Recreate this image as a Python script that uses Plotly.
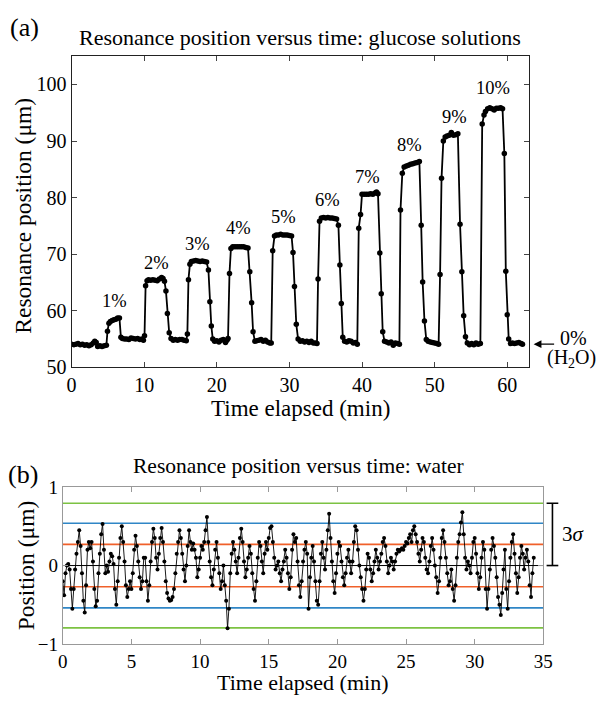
import plotly.graph_objects as go

# ---------------- Panel (a): glucose solutions ----------------
glu_t = [0.0, 0.3, 0.6, 0.9, 1.2, 1.5, 1.8, 2.1, 2.4, 2.7, 3.0, 3.2, 3.4, 3.6, 3.9, 4.2, 4.5, 4.8,
         4.95, 5.15, 5.35, 5.6, 5.85, 6.1, 6.35, 6.6, 6.8,
         7.0, 7.3, 7.6, 7.9, 8.2, 8.5, 8.8, 9.1, 9.4, 9.7, 9.9,
         10.05, 10.2, 10.4, 10.6, 10.9, 11.2, 11.5, 11.8, 12.1, 12.4, 12.6, 12.8,
         13.0, 13.2, 13.45, 13.7,
         14.0, 14.3, 14.6, 14.9, 15.2, 15.5, 15.8,
         15.95, 16.1, 16.3, 16.5, 16.8, 17.1, 17.4, 17.7, 18.0, 18.3, 18.6,
         18.85, 19.05, 19.25, 19.45,
         19.7, 20.0, 20.3, 20.6, 20.9, 21.2, 21.4,
         21.55, 21.75, 21.95, 22.2, 22.5, 22.8, 23.1, 23.4, 23.7, 24.0, 24.3,
         24.55, 24.8, 25.0, 25.25,
         25.5, 25.8, 26.1, 26.4, 26.7, 27.0, 27.3,
         27.5, 27.7, 27.95, 28.2, 28.5, 28.8, 29.1, 29.4, 29.7, 30.0, 30.3,
         30.5, 30.7, 30.95, 31.2,
         31.5, 31.8, 32.1, 32.4, 32.7, 33.0, 33.3, 33.6,
         33.8, 33.95, 34.15, 34.4, 34.7, 35.0, 35.3, 35.6, 35.9, 36.2, 36.5,
         36.75, 36.95, 37.15, 37.35,
         37.6, 37.9, 38.2, 38.5, 38.8, 39.1, 39.35,
         39.55, 39.8, 40.0, 40.3, 40.6, 40.9, 41.2, 41.5, 41.8, 42.0, 42.2,
         42.45, 42.65, 42.85, 43.1,
         43.4, 43.7, 44.0, 44.3, 44.6, 44.9, 45.15,
         45.3, 45.55, 45.8, 46.1, 46.4, 46.7, 47.0, 47.3, 47.6, 47.9,
         48.15, 48.35, 48.6, 48.85,
         49.1, 49.4, 49.7, 50.0, 50.3, 50.55,
         50.75, 50.95, 51.2, 51.45, 51.7, 52.0, 52.3, 52.6, 52.9, 53.2,
         53.5, 53.75, 54.0, 54.25,
         54.5, 54.8, 55.1, 55.4, 55.7, 56.0, 56.3,
         56.55, 56.8, 57.0, 57.3, 57.6, 57.9, 58.2, 58.5, 58.8, 59.1, 59.35,
         59.6, 59.8, 60.0, 60.2,
         60.45, 60.7, 61.0, 61.3, 61.6, 61.9, 62.1]
glu_pos = [54.1, 54.0, 54.1, 54.2, 54.0, 54.1, 53.9, 54.0, 53.8, 54.0, 54.3, 54.6, 54.4, 53.7, 53.8, 53.7, 53.8, 53.9,
           56.4, 57.8, 58.1, 58.3, 58.4, 58.5, 58.7, 58.7, 55.3,
           55.1, 55.0, 55.0, 54.9, 55.2, 55.1, 55.0, 55.1, 54.9, 55.0, 54.8,
           55.6, 64.4, 65.3, 65.5, 65.4, 65.5, 65.4, 65.3, 65.6, 65.9, 65.7, 65.2,
           63.5, 59.5, 56.1, 55.1,
           54.8, 54.9, 54.8, 54.9, 54.9, 54.8, 54.7,
           55.9, 65.5, 68.2, 68.7, 68.8, 68.9, 68.8, 68.7, 68.8, 68.7, 68.6,
           67.2, 61.6, 57.3, 55.0,
           54.6, 54.7, 54.5, 54.8, 54.9, 54.4, 54.8,
           55.1, 66.6, 71.0, 71.3, 71.3, 71.3, 71.3, 71.3, 71.3, 71.2, 71.1,
           66.9, 61.4, 56.3, 54.6,
           54.7, 54.8, 54.9, 54.6, 54.8, 54.5, 54.3,
           54.3, 70.6, 73.2, 73.4, 73.4, 73.5, 73.4, 73.4, 73.4, 73.3, 73.2,
           70.3, 64.3, 57.6, 55.0,
           54.6, 54.7, 54.5, 54.6, 54.4, 54.6, 54.3, 54.3,
           54.2, 65.6, 75.8, 76.4, 76.5, 76.4, 76.5, 76.4, 76.4, 76.3, 76.2,
           75.1, 68.1, 61.3, 55.3,
           54.6, 54.5, 54.7, 54.6, 54.3, 54.4, 54.1,
           74.6, 77.0, 80.6, 80.6, 80.6, 80.6, 80.7, 80.6, 80.8, 81.0, 80.7,
           70.2, 63.0, 56.3, 54.6,
           54.5, 54.3, 54.5, 53.9, 54.3, 54.2, 54.1,
           77.8, 84.3, 85.4, 85.6, 85.7, 85.9, 86.0, 86.1, 86.2, 86.4,
           75.1, 65.1, 58.2, 54.9,
           54.6, 54.5, 54.4, 54.3, 54.2, 54.1,
           66.4, 83.4, 90.0, 90.7, 90.9, 91.0, 91.5, 91.0, 91.1, 91.3,
           75.3, 66.9, 59.1, 55.4,
           54.3, 54.0, 54.2, 54.0, 54.3, 54.1, 54.2,
           93.0, 94.6, 95.2, 95.7, 95.9, 95.7, 95.5, 95.8, 95.8, 95.9, 95.7,
           87.8, 67.0, 59.3, 55.0,
           54.2, 54.3, 54.2, 54.3, 54.4, 54.2, 54.1]

pct_labels = ["1%", "2%", "3%", "4%", "5%", "6%", "7%", "8%", "9%", "10%"]
pct_label_t = [5.9, 11.7, 17.3, 23.0, 29.2, 35.2, 40.8, 46.6, 52.8, 58.1]
pct_label_pos = [61.7, 68.4, 71.8, 74.6, 76.6, 79.6, 83.6, 89.3, 94.3, 99.3]

# ---------------- Panel (b): water ----------------
water_dt = 0.1  # min between samples
water_pos = [
    -0.20, -0.38, -0.10, 0.00, 0.02, -0.05, -0.30, -0.55, -0.30, -0.05,
    0.15, 0.30, 0.45, 0.25, -0.10, -0.45, -0.60, -0.25, 0.20, 0.30,
    0.22, 0.30, 0.05, -0.30, -0.52, -0.45, -0.10, 0.15, 0.40, 0.53,
    0.20, -0.10, 0.00, -0.08, 0.05, 0.15, 0.12, 0.02, -0.30, -0.50,
    -0.20, 0.10, 0.35, 0.50, 0.30, 0.05, -0.25, -0.40, -0.30, -0.20,
    -0.30, -0.10, 0.20, 0.38, 0.25, 0.05, -0.15, -0.30, -0.20, 0.10,
    0.10, -0.20, -0.45, -0.25, 0.05, 0.30, 0.47, 0.35, 0.10, -0.05,
    0.15, 0.35, 0.48, 0.30, 0.05, -0.20, -0.35, -0.42, -0.45, -0.44,
    -0.40, -0.30, -0.10, 0.15, 0.30, 0.45, 0.35, 0.15, -0.05, -0.20,
    0.00, 0.25, 0.45, 0.30, 0.20, 0.28, 0.20, 0.10, -0.15, -0.05,
    0.10, 0.25, 0.20, 0.30, 0.45, 0.62, 0.30, 0.05, -0.15, -0.25,
    -0.05, 0.20, 0.30, 0.10, -0.10, -0.30, -0.20, 0.00, -0.25, -0.45,
    -0.80, -0.55, -0.10, 0.15, 0.30, 0.20, 0.05, -0.10, 0.10, 0.35,
    0.47, 0.30, 0.05, -0.15, -0.05, 0.10, 0.25, 0.15, -0.10, -0.30,
    -0.45, -0.20, 0.10, 0.30, 0.25, 0.05, -0.10, 0.15, 0.30, 0.20,
    0.35, 0.48, 0.50, 0.30, 0.10, -0.05, 0.00, 0.05, -0.10, -0.20,
    -0.05, 0.05, 0.20, 0.10, -0.10, -0.30, -0.15, 0.20, 0.40, 0.30,
    0.35, 0.05, -0.25, -0.40, -0.20, 0.05, 0.20, 0.30, 0.15, -0.55,
    -0.15, 0.10, 0.25, 0.05, -0.20, -0.45, -0.50, -0.20, 0.15, 0.30,
    0.10, -0.05, 0.20, 0.45, 0.66, 0.35, 0.05, -0.20, -0.35, -0.10,
    0.15, 0.30, 0.25, 0.05, -0.15, -0.25, -0.10, 0.10, 0.20, 0.05,
    -0.10, 0.05, 0.30, 0.50, 0.45, 0.20, 0.00, -0.15, -0.30, -0.45,
    -0.30, -0.05, 0.15, 0.10, -0.05, -0.20, -0.10, 0.05, 0.20, 0.10,
    -0.05, 0.05, 0.15, 0.30, 0.35, 0.25, 0.05, -0.10, 0.00, 0.10,
    0.05, -0.05, 0.05, 0.15, 0.20, 0.18, 0.20, 0.22, 0.20, 0.25,
    0.30, 0.28, 0.35, 0.40, 0.30, 0.45, 0.50, 0.40, 0.30, 0.15,
    0.05, 0.20, 0.35, 0.30, 0.10, -0.05, -0.10, 0.05, 0.25, 0.35,
    0.20, 0.00, -0.15, -0.35, -0.20, 0.10, 0.35, 0.45, 0.30, 0.10,
    -0.10, -0.25, -0.20, -0.05, -0.30, -0.45, -0.25, 0.10, 0.30, 0.40,
    0.55, 0.68, 0.40, 0.10, -0.05, 0.05, 0.00, -0.10, 0.10, 0.30,
    0.35, 0.15, -0.10, -0.30, -0.15, 0.10, 0.30, 0.20, -0.30, -0.55,
    -0.30, -0.05, 0.20, 0.35, 0.25, 0.10, -0.15, -0.40, -0.50, -0.63,
    -0.35, -0.05, 0.20, -0.30, -0.55, -0.20, 0.10, 0.30, 0.40, 0.15,
    -0.10, -0.35, -0.15, 0.10, 0.25, 0.15, -0.05, 0.10, 0.20, 0.05,
    -0.25, -0.40, -0.10, 0.10]
water_t = [round(i * water_dt, 2) for i in range(len(water_pos))]

sigma_levels = [0.27, 0.54, 0.795]          # 1, 2, 3 sigma
sigma_colors = ["#f0602a", "#2f86c6", "#7cc242"]

FONT = "Liberation Serif"
W, H = 612, 709

fig = go.Figure()
fig.add_trace(go.Scatter(x=glu_t, y=glu_pos, mode="lines+markers",
                         line=dict(color="black", width=1.8),
                         marker=dict(color="black", size=5.5),
                         xaxis="x", yaxis="y", showlegend=False))

for lev, col in zip(sigma_levels, sigma_colors):
    for s in (1, -1):
        fig.add_trace(go.Scatter(x=[0, 35], y=[s * lev, s * lev], mode="lines",
                                 line=dict(color=col, width=1.6),
                                 xaxis="x2", yaxis="y2", showlegend=False, hoverinfo="skip"))
fig.add_trace(go.Scatter(x=[0, 35], y=[0, 0], mode="lines",
                         line=dict(color="black", width=1),
                         xaxis="x2", yaxis="y2", showlegend=False, hoverinfo="skip"))
fig.add_trace(go.Scatter(x=water_t, y=water_pos, mode="lines+markers",
                         line=dict(color="black", width=0.9),
                         marker=dict(color="black", size=4),
                         xaxis="x2", yaxis="y2", showlegend=False))

# panel geometry (layout pixels; the page adds an 8 px body margin)
a_l, a_r, a_t, a_b = 60, 529, 39.3, 360
b_l, b_r, b_t, b_b = 51, 543.7, 483.5, 645

axis_common = dict(ticks="inside", mirror="allticks", showgrid=False, zeroline=False, showline=True)

fig.update_layout(
    width=W, height=H, margin=dict(l=0, r=0, t=0, b=0),
    paper_bgcolor="white", plot_bgcolor="white",
    font=dict(family=FONT, color="black"),
    xaxis=dict(domain=[a_l / W, a_r / W], range=[0, 63], tickvals=[0, 10, 20, 30, 40, 50, 60],
               anchor="y", linecolor="#222", linewidth=1, ticklen=5, tickcolor="#444",
               tickfont=dict(family=FONT, size=20, color="black"), **axis_common),
    yaxis=dict(domain=[1 - a_b / H, 1 - a_t / H], range=[50, 105], tickvals=[50, 60, 70, 80, 90, 100],
               anchor="x", linecolor="#222", linewidth=1, ticklen=5, tickcolor="#444",
               tickfont=dict(family=FONT, size=20, color="black"), **axis_common),
    xaxis2=dict(domain=[b_l / W, b_r / W], range=[0, 35], tickvals=[0, 5, 10, 15, 20, 25, 30, 35],
                anchor="y2", linecolor="#999", linewidth=1, ticklen=5, tickcolor="#999",
                tickfont=dict(family=FONT, size=19, color="black"), **axis_common),
    yaxis2=dict(domain=[1 - b_b / H, 1 - b_t / H], range=[-1, 1], tickvals=[-1, 0, 1],
                anchor="x2", linecolor="#999", linewidth=1, ticklen=5, tickcolor="#999",
                tickfont=dict(family=FONT, size=19, color="black"), **axis_common),
)


def note(text, x, y, size, xref="paper", yref="paper", **kw):
    if xref == "paper":
        x = x / W
    if yref == "paper":
        y = 1 - y / H
    return dict(text=text, xref=xref, yref=yref, x=x, y=y, showarrow=False,
                xanchor="center", yanchor="middle", font=dict(family=FONT, size=size), **kw)


ann = [
    note("(a)", 12, 10, 26),
    note("Resonance position versus time: glucose solutions", (a_l + a_r) / 2, 20.5, 22),
    note("Time elapsed (min)", (a_l + a_r) / 2, 402, 23),
    note("Resonance position (μm)", 10, 204, 23.5, textangle=-90),
    note("(b)", 10, 470, 26),
    note("Resonance position versus time: water", 292.5, 462, 21.5),
    note("Time elapsed (min)", (b_l + b_r) / 2, 685, 22),
    note("Position (μm)", 13, (b_t + b_b) / 2, 23.5, textangle=-90),
]
for lab, tx, ty in zip(pct_labels, pct_label_t, pct_label_pos):
    ann.append(note(lab, tx, ty, 18.5, xref="x", yref="y"))
ann.append(dict(text="", xref="paper", yref="y", x=533.7 / W, y=54.1, ax=22, ay=0,
                showarrow=True, arrowhead=2, arrowsize=1.2, arrowwidth=1.3, arrowcolor="black"))
ann.append(note("0%", 575, 330, 20))
ann.append(note("(H<sub>2</sub>O)", 573, 351, 20))
ann.append(note("3<i>σ</i>", 575, 0.4, 21, yref="y2"))
fig.update_layout(annotations=ann)

bx, bc0, bc1 = 553 / W, 547 / W, 559 / W
shapes = [
    dict(type="line", xref="paper", yref="y2", x0=bx, x1=bx, y0=0, y1=sigma_levels[2],
         line=dict(color="black", width=1.6)),
    dict(type="line", xref="paper", yref="y2", x0=bc0, x1=bc1, y0=0, y1=0,
         line=dict(color="black", width=1.6)),
    dict(type="line", xref="paper", yref="y2", x0=bc0, x1=bc1, y0=sigma_levels[2], y1=sigma_levels[2],
         line=dict(color="black", width=1.6)),
]
fig.update_layout(shapes=shapes)

fig.write_html("out.html")
